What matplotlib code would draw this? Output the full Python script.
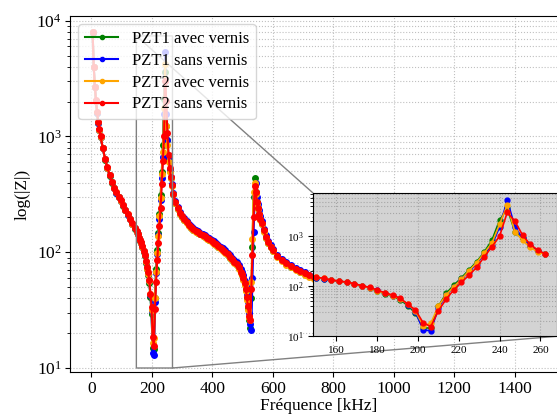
import numpy as np
import matplotlib
matplotlib.use('Agg')
import matplotlib.pyplot as plt

plt.rcParams['font.family'] = ['Liberation Serif', 'DejaVu Serif']
plt.rcParams['mathtext.fontset'] = 'stix'

# frequences de mesure [kHz]
freq_khz = [
    3.75, 7.5, 11.25, 15, 18.75, 22.5, 26.25, 30, 37.5, 45, 52.5, 60, 67.5, 75, 82.5, 90,
    97.5, 105, 112.5, 120, 127.5, 135, 142.5, 150,
    153.75, 157.5, 161.25, 165, 168.75, 172.5, 176.25, 180, 183.75, 187.5, 191.25, 195,
    198.75, 202.5, 206.25, 210, 213.75, 217.5, 221.25, 225, 228.75, 232.5, 236.25, 240,
    243.75, 247.5, 251.25, 255, 258.75, 262.5, 266.25,
    270, 277.5, 285, 292.5, 300, 307.5, 315, 322.5, 330, 337.5, 345, 352.5, 360, 367.5,
    375, 382.5, 390, 397.5, 405, 412.5, 420, 427.5, 435, 442.5, 450, 457.5, 465, 472.5,
    480, 487.5, 495,
    498.75, 502.5, 506.25, 510, 513.75, 517.5, 521.25, 525, 528.75, 532.5, 536.25, 540,
    543.75, 547.5, 551.25, 555, 558.75, 562.5,
    570, 577.5, 585, 592.5, 600, 615, 630, 645, 660, 675, 690, 705, 720, 735, 750,
    800, 900, 1000, 1100, 1200, 1300, 1400, 1500,
]

# |Z| [ohm]
z_pzt1_avec = [
    7900, 3960, 2670, 2030, 1600, 1315, 1135, 990, 790, 632, 533, 459, 400, 356, 326, 298,
    276, 253, 231, 210, 192, 175, 160, 149,
    143, 133, 126, 120, 111, 101, 93, 81, 71, 63, 54, 41,
    29, 14.9, 14.5, 40, 72, 105, 148, 215, 310, 490, 843, 2120,
    3630, 1236, 925, 640, 500, 440, 378,
    318, 268, 238, 216, 202, 191, 181, 171, 163, 157, 152, 148, 144, 140,
    136, 132, 128, 124, 120, 116, 112, 108, 104, 100, 95, 90, 86, 82,
    78, 73, 67,
    64, 59, 53, 47, 40, 33, 26, 22, 40, 110, 300, 436,
    330, 270, 240, 212, 192, 176,
    152, 134, 121, 111, 103, 92, 85, 79, 75, 71, 68, 65, 62, 60, 58,
    54, 47, 42, 38, 35, 32, 30, 28,
]
z_pzt1_sans = [
    7950, 3980, 2680, 2040, 1610, 1320, 1140, 995, 795, 636, 537, 462, 403, 358, 328, 300,
    278, 255, 232, 211, 193, 176, 161, 150,
    143, 133, 127, 121, 112, 102, 94, 83, 73, 65, 57, 43,
    31, 13.4, 12.9, 37, 66, 97, 140, 195, 285, 440, 670, 1555,
    5320, 1555, 925, 650, 510, 445, 385,
    325, 275, 244, 221, 207, 196, 186, 175, 167, 161, 156, 152, 148, 144,
    140, 136, 132, 128, 124, 120, 116, 112, 108, 104, 99, 94, 90, 86,
    82, 77, 71,
    68, 63, 57, 51, 44, 37, 30, 24, 21.5, 60, 150, 300,
    395, 300, 263, 230, 205, 186,
    160, 140, 126, 115, 106, 95, 88, 82, 77, 73, 70, 67, 64, 62, 60,
    56, 49, 44, 40, 37, 34, 32, 30,
]
z_pzt2_avec = [
    8000, 4000, 2690, 2045, 1615, 1325, 1145, 998, 798, 638, 539, 464, 404, 359, 329, 301,
    279, 256, 233, 212, 194, 177, 162, 151,
    144, 134, 127, 121, 112, 102, 94, 82, 72, 65, 56, 44,
    32, 16.3, 18.2, 40, 67, 98, 138, 205, 296, 470, 735, 1760,
    4230, 1236, 843, 603, 492, 440, 375,
    316, 267, 237, 215, 201, 190, 180, 170, 162, 156, 151, 147, 143, 139,
    135, 131, 127, 123, 119, 115, 111, 107, 103, 99, 94, 89, 85, 81,
    77, 72, 66,
    63, 58, 52, 46, 39, 32, 27, 26, 55, 130, 330, 400,
    320, 260, 235, 210, 190, 175,
    150, 133, 120, 110, 102, 91, 84, 78, 74, 70, 67, 64, 61, 59, 57,
    53, 46, 41, 37, 34, 31, 29, 27,
]
z_pzt2_sans = [
    8030, 4010, 2700, 2050, 1620, 1330, 1150, 1000, 800, 640, 540, 465, 405, 360, 330, 302,
    280, 257, 234, 213, 195, 178, 163, 152,
    145, 134, 128, 122, 113, 103, 95.5, 84, 74.5, 67, 57.5, 44,
    33.6, 18.7, 15.6, 32.5, 55, 85, 120, 168, 240, 391, 620, 1015,
    3020, 2020, 1062, 692, 532, 443, 380,
    320, 270, 240, 218, 204, 193, 183, 172, 164, 158, 153, 149, 145, 141,
    137, 133, 129, 125, 121, 117, 113, 109, 105, 101, 96, 91, 87, 83,
    79, 74, 68,
    65, 60, 54, 48, 41, 34, 28, 26, 48, 95, 200, 370,
    330, 270, 240, 215, 195, 180,
    155, 135, 122, 112, 104, 93, 86, 80, 76, 72, 69, 66, 63, 61, 59,
    55, 48, 43, 39, 36, 33, 31, 29,
]

labels = ['PZT1 avec vernis', 'PZT1 sans vernis', 'PZT2 avec vernis', 'PZT2 sans vernis']
colors = ['green', 'blue', 'orange', 'red']


def main():
    freq = np.array(freq_khz)
    all_z = [z_pzt1_avec, z_pzt1_sans, z_pzt2_avec, z_pzt2_sans]

    fig = plt.figure(figsize=(5.57, 4.17), dpi=100)
    ax = fig.add_axes([70 / 557, 1 - 372.3 / 417, 497.6 / 557, 356.3 / 417])

    for z, lab, c in zip(all_z, labels, colors):
        ax.plot(freq, z, '-o', color=c, lw=1.5, ms=4, label=lab)

    ax.set_yscale('log')
    ax.set_xlim(-71, 1575)
    ax.set_ylim(9.18, 10990)
    ax.grid(True, which='both', linestyle=':', color='#c0c0c0')
    ax.set_xlabel('Fréquence [kHz]', fontsize=12.5, labelpad=1)
    ax.set_ylabel('log(|Z|)', fontsize=12.5)
    ax.tick_params(labelsize=12.5, pad=2.5)
    leg = ax.legend(loc='upper left', fontsize=12, labelspacing=0.35)
    for h in leg.legend_handles:
        h.set_markersize(3)

    # zoom sur la premiere resonance
    axins = fig.add_axes([313 / 557, 1 - 336.3 / 417, 243.7 / 557, 143.3 / 417])
    mask = freq <= 263
    for z, c in zip(all_z, colors):
        axins.plot(freq[mask], np.array(z)[mask], '-o', color=c, lw=1.2, ms=3.5)
    axins.set_yscale('log')
    axins.set_xlim(148.5, 268)
    axins.set_ylim(10, 7400)
    axins.set_facecolor('lightgray')
    axins.grid(True, which='both', linestyle=':', color='0.65')
    axins.tick_params(labelsize=8)

    ax.indicate_inset_zoom(axins, edgecolor='gray', alpha=1)

    fig.savefig('out.png', dpi=100)


if __name__ == "__main__":
    main()
